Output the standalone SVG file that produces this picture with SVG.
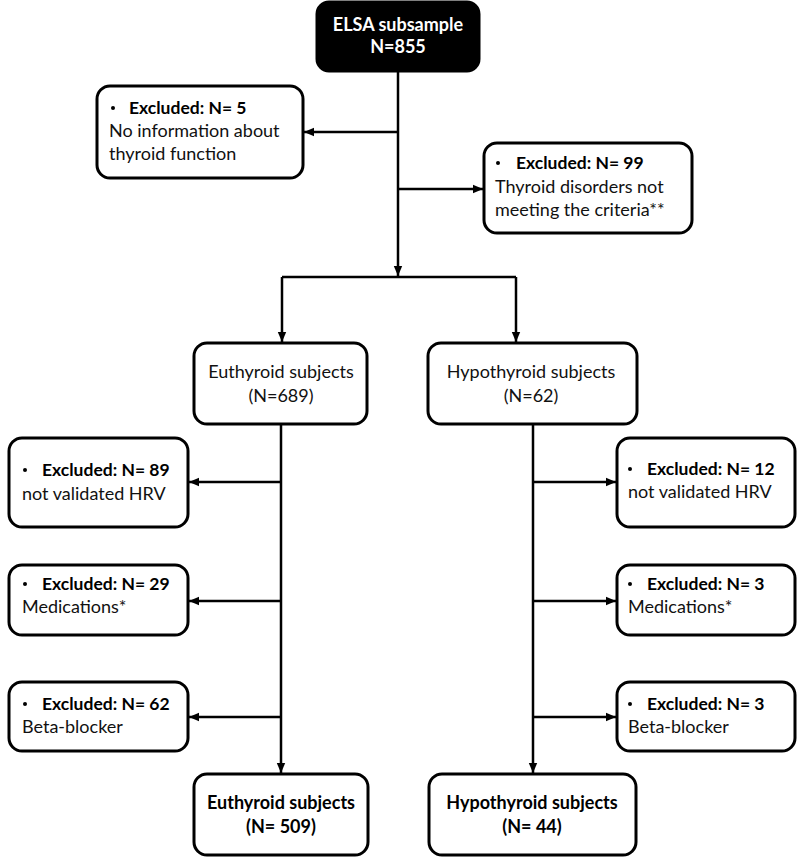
<svg xmlns="http://www.w3.org/2000/svg" width="800" height="859" viewBox="0 0 800 859">
<defs>
<marker id="ah" markerUnits="userSpaceOnUse" markerWidth="10" markerHeight="10" refX="10" refY="5" orient="auto">
<path d="M0,0.8 L10,5 L0,9.2 z" fill="#000"/>
</marker>
<style>
.box{fill:#fff;stroke:#000;stroke-width:3}
.dark{fill:#000;stroke:#000;stroke-width:3}
.con{fill:none;stroke:#000;stroke-width:2.5}
text{font-family:Lato,"Open Sans","Liberation Sans",sans-serif;font-size:18px;fill:#111}
.b{font-weight:bold;fill:#000;font-size:17.5px}
.bb{font-weight:bold;fill:#000;font-size:18px}
.w{fill:#fff;font-weight:bold;font-size:18px}
.c{text-anchor:middle}
.dot{fill:#000}
</style>
</defs>
<rect width="800" height="859" fill="#fff"/>
<g id="connectors">
<path class="con" d="M398 71 V276" marker-end="url(#ah)"/>
<path class="con" d="M398 132 H304" marker-end="url(#ah)"/>
<path class="con" d="M398 189 H483" marker-end="url(#ah)"/>
<path class="con" d="M282 277 H516"/>
<path class="con" d="M282 277 V342" marker-end="url(#ah)"/>
<path class="con" d="M516 277 V342" marker-end="url(#ah)"/>
<path class="con" d="M281 424 V773" marker-end="url(#ah)"/>
<path class="con" d="M533 424 V773" marker-end="url(#ah)"/>
<path class="con" d="M281 482 H189" marker-end="url(#ah)"/>
<path class="con" d="M281 601 H189" marker-end="url(#ah)"/>
<path class="con" d="M281 717 H189" marker-end="url(#ah)"/>
<path class="con" d="M533 482 H616" marker-end="url(#ah)"/>
<path class="con" d="M533 601 H616" marker-end="url(#ah)"/>
<path class="con" d="M533 717 H616" marker-end="url(#ah)"/>
</g>
<g id="elsa">
<rect class="dark" x="317" y="2" width="162" height="69" rx="12"/>
<text class="w c" x="398" y="31">ELSA subsample</text>
<text class="w c" x="398" y="53">N=855</text>
</g>
<g id="excl-thyroid-info">
<rect class="box" x="97" y="86" width="206" height="92" rx="13"/>
<circle class="dot" cx="113" cy="108" r="2"/>
<text class="b" x="129" y="114">Excluded: N= 5</text>
<text x="109" y="137">No information  about</text>
<text x="109" y="160">thyroid  function</text>
</g>
<g id="excl-thyroid-disorders">
<rect class="box" x="484" y="143" width="208" height="90" rx="13"/>
<circle class="dot" cx="498" cy="163" r="2"/>
<text class="b" x="516" y="169">Excluded: N= 99</text>
<text x="495" y="193">Thyroid disorders not</text>
<text x="495" y="216">meeting the criteria**</text>
</g>
<g id="euthyroid">
<rect class="box" x="194" y="343" width="173" height="81" rx="13"/>
<text class="c" x="281" y="378">Euthyroid  subjects</text>
<text class="c" x="281" y="402">(N=689)</text>
</g>
<g id="hypothyroid">
<rect class="box" x="428" y="343" width="209" height="81" rx="13"/>
<text class="c" x="531" y="378">Hypothyroid  subjects</text>
<text class="c" x="531" y="402">(N=62)</text>
</g>
<g id="excl-eu-hrv">
<rect class="box" x="9" y="438" width="179" height="89" rx="13"/>
<circle class="dot" cx="25" cy="470" r="2"/>
<text class="b" x="42" y="476">Excluded: N= 89</text>
<text x="22" y="500">not validated HRV</text>
</g>
<g id="excl-eu-med">
<rect class="box" x="9" y="565" width="179" height="70" rx="13"/>
<circle class="dot" cx="25" cy="584" r="2"/>
<text class="b" x="42" y="590">Excluded: N= 29</text>
<text x="22" y="613">Medications*</text>
</g>
<g id="excl-eu-beta">
<rect class="box" x="9" y="682" width="179" height="69" rx="13"/>
<circle class="dot" cx="25" cy="704" r="2"/>
<text class="b" x="42" y="710">Excluded: N= 62</text>
<text x="22" y="733">Beta-blocker</text>
</g>
<g id="excl-hypo-hrv">
<rect class="box" x="617" y="438" width="178" height="89" rx="13"/>
<circle class="dot" cx="630" cy="469" r="2"/>
<text class="b" x="647" y="475">Excluded: N= 12</text>
<text x="628" y="498">not validated HRV</text>
</g>
<g id="excl-hypo-med">
<rect class="box" x="617" y="565" width="178" height="70" rx="13"/>
<circle class="dot" cx="630" cy="584" r="2"/>
<text class="b" x="647" y="590">Excluded: N= 3</text>
<text x="628" y="613">Medications*</text>
</g>
<g id="excl-hypo-beta">
<rect class="box" x="617" y="682" width="178" height="69" rx="13"/>
<circle class="dot" cx="630" cy="704" r="2"/>
<text class="b" x="647" y="710">Excluded: N= 3</text>
<text x="628" y="733">Beta-blocker</text>
</g>
<g id="euthyroid-final">
<rect class="box" x="194" y="774" width="174" height="81" rx="13"/>
<text class="bb c" x="281" y="809">Euthyroid subjects</text>
<text class="bb c" x="281" y="833">(N= 509)</text>
</g>
<g id="hypothyroid-final">
<rect class="box" x="429" y="774" width="207" height="81" rx="13"/>
<text class="bb c" x="532" y="809">Hypothyroid subjects</text>
<text class="bb c" x="532" y="833">(N= 44)</text>
</g>
</svg>
